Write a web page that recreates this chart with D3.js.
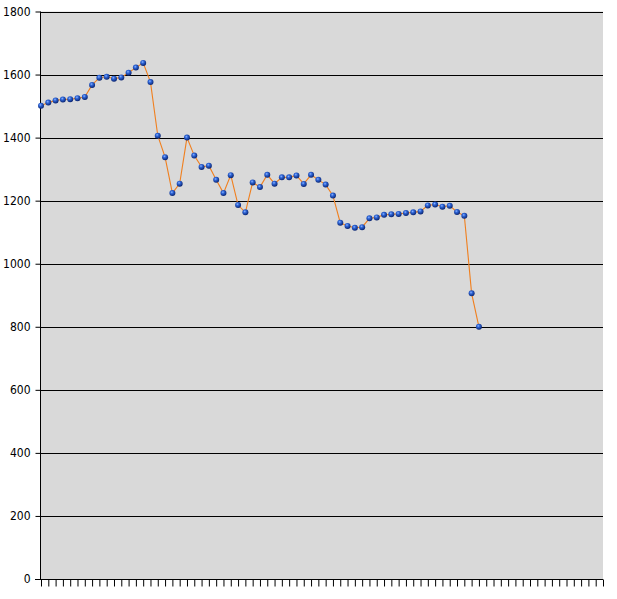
<!DOCTYPE html>
<html>
<head>
<meta charset="utf-8">
<script src="https://cdn.jsdelivr.net/npm/d3@7"></script>
<style>
  body { margin: 0; background: #fff; }
  svg { display: block; }
  .axis text { font-family: "Liberation Sans Narrow", "DejaVu Sans Condensed", sans-serif; font-size: 12px; fill: #000; }
</style>
</head>
<body>
<svg id="chart" width="617" height="599"></svg>
<script>
// values, one per category slot (slots after the last value are empty)
const values = [
    1501, 1511, 1518, 1521, 1522, 1525, 1529, 1567, 1590, 1593,
    1587, 1591, 1606, 1622, 1637, 1576, 1406, 1338, 1224, 1254,
    1400, 1343, 1307, 1311, 1266, 1224, 1281, 1186, 1163, 1258,
    1243, 1282, 1254, 1274, 1274, 1280, 1253, 1282, 1266, 1251,
    1216, 1130, 1120, 1114, 1116, 1144, 1147, 1155, 1157, 1158,
    1161, 1163, 1166, 1185, 1188, 1181, 1184, 1164, 1152, 906,
    800
];
const categoryCount = 78;
const categories = d3.range(categoryCount);
const yTicks = [0, 200, 400, 600, 800, 1000, 1200, 1400, 1600, 1800];

const svg = d3.select("#chart");
const plotLeft = 41, plotRight = 603, plotTop = 11.5, plotBottom = 579;

const x = d3.scalePoint()
    .domain(categories)
    .range([plotLeft, plotRight]);

const y = d3.scaleLinear()
    .domain([0, 1800])
    .range([plotBottom, plotTop]);

// plot background
svg.append("rect")
    .attr("x", plotLeft)
    .attr("y", plotTop)
    .attr("width", plotRight - plotLeft)
    .attr("height", plotBottom - plotTop)
    .attr("fill", "#d9d9d9");

// gridlines
svg.append("g")
    .selectAll("line")
    .data(yTicks.filter(d => d > 0))
    .enter().append("line")
    .attr("x1", plotLeft)
    .attr("x2", plotRight)
    .attr("y1", d => Math.round(y(d)) + 0.5)
    .attr("y2", d => Math.round(y(d)) + 0.5)
    .attr("stroke", "#000")
    .attr("stroke-width", 1);

// y axis
const yAxis = svg.append("g")
    .attr("class", "axis")
    .attr("transform", `translate(${plotLeft - 0.5},0)`)
    .call(d3.axisLeft(y).tickValues(yTicks).tickSize(5).tickPadding(5).tickFormat(d3.format("d")));
yAxis.selectAll("line").attr("stroke", "#000");
yAxis.select(".domain").attr("stroke", "#000").attr("d", `M0,${plotTop}V${plotBottom}`);

// x axis with unlabeled ticks
const xAxis = svg.append("g")
    .attr("class", "axis")
    .attr("transform", `translate(0,${plotBottom + 0.5})`)
    .call(d3.axisBottom(x).tickSize(7).tickFormat(""));
xAxis.selectAll("line").attr("stroke", "#000");
xAxis.select(".domain").attr("stroke", "#000").attr("d", `M${plotLeft - 6},0H${plotRight}`);

// marker gradient
const defs = svg.append("defs");
const grad = defs.append("radialGradient")
    .attr("id", "ball")
    .attr("cx", "40%").attr("cy", "35%").attr("r", "65%");
grad.append("stop").attr("offset", "0%").attr("stop-color", "#8fb6ff");
grad.append("stop").attr("offset", "35%").attr("stop-color", "#2f66d8");
grad.append("stop").attr("offset", "100%").attr("stop-color", "#0a2470");

const line = d3.line()
    .x((d, i) => x(i))
    .y(d => y(d));

svg.append("path")
    .datum(values)
    .attr("d", line)
    .attr("fill", "none")
    .attr("stroke", "#f07f1e")
    .attr("stroke-width", 1.1);

svg.append("g")
    .selectAll("circle")
    .data(values)
    .enter().append("circle")
    .attr("cx", (d, i) => x(i))
    .attr("cy", d => y(d))
    .attr("r", 3)
    .attr("fill", "url(#ball)");
</script>
</body>
</html>
